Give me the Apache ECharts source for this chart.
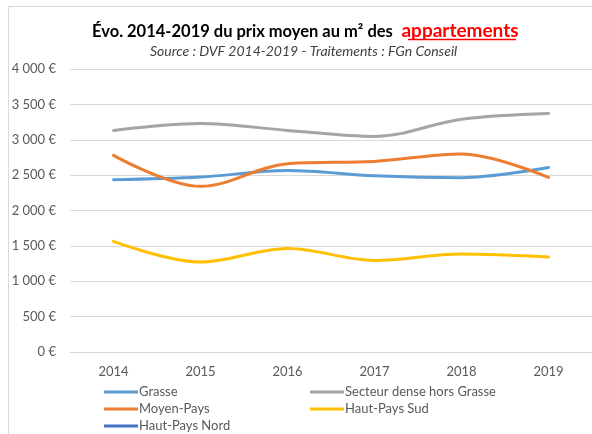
<!DOCTYPE html>
<html>
<head>
<meta charset="utf-8">
<script src="https://cdn.jsdelivr.net/npm/echarts@6/dist/echarts.min.js"></script>
<style>
  html, body { margin: 0; padding: 0; background: #fff; }
  #chart { width: 592px; height: 434px; }
</style>
</head>
<body>
<div id="chart"></div>
<script>
// Average price per m² of apartments, 2014-2019 (€)
const years = ['2014', '2015', '2016', '2017', '2018', '2019'];
const grasse        = [2435, 2473, 2567, 2492, 2464, 2609];
const secteurDense  = [3132, 3230, 3132, 3047, 3290, 3372];
const moyenPays     = [2779, 2341, 2661, 2694, 2798, 2468];
const hautPaysSud   = [1563, 1272, 1464, 1295, 1385, 1343];
const hautPaysNord  = [null, null, null, null, null, null];
const yTicks = { min: 0, max: 4000, step: 500 };

const FONT = 'Lato, "Open Sans", sans-serif';
const TEXT = '#595959';

function euro(v) {
  const s = String(v);
  const grouped = s.length > 3 ? s.slice(0, s.length - 3) + ' ' + s.slice(-3) : s;
  return grouped + ' €';
}

function line(name, data, color) {
  return {
    name, type: 'line', data,
    smooth: 0.35,
    symbol: 'none',
    lineStyle: { width: 3, color, cap: 'round' },
    itemStyle: { color },
    emphasis: { disabled: true }
  };
}

const chart = echarts.init(document.getElementById('chart'), null, { renderer: 'canvas' });
chart.setOption({
  backgroundColor: '#ffffff',
  animation: false,
  textStyle: { fontFamily: FONT },
  title: [
    {
      text: '{a|Évo. 2014-2019 du prix moyen au m² des }{b| appartements}',
      left: 92, top: 21,
      textStyle: {
        rich: {
          a: { fontFamily: FONT, fontSize: 16.5, fontWeight: 'bold', color: '#000', verticalAlign: 'bottom' },
          b: { fontFamily: FONT, fontSize: 19, fontWeight: 'bold', color: '#ff0000', verticalAlign: 'bottom' }
        }
      },
      padding: 0
    },
    {
      text: 'Source : DVF 2014-2019 - Traitements : FGn Conseil',
      left: 150, top: 44,
      padding: 0,
      textStyle: { fontFamily: FONT, fontSize: 14, fontStyle: 'italic', fontWeight: 'normal', color: '#404040' }
    }
  ],
  graphic: [
    {
      type: 'rect', silent: true,
      shape: { x: 8.5, y: 6.5, width: 640, height: 480 },
      style: { fill: 'none', stroke: '#d9d9d9', lineWidth: 1 }
    },
    {
      type: 'line', silent: true,
      shape: { x1: 408, y1: 39.5, x2: 516, y2: 39.5 },
      style: { stroke: '#ff0000', lineWidth: 1.3 }
    }
  ],
  grid: { left: 70, right: 0, top: 69, bottom: 82, containLabel: false },
  xAxis: {
    type: 'category',
    data: years,
    boundaryGap: true,
    axisLine: { show: true, lineStyle: { color: '#d9d9d9', width: 1 } },
    axisTick: { show: false },
    axisLabel: { color: TEXT, fontSize: 13, margin: 13, fontFamily: FONT }
  },
  yAxis: {
    type: 'value',
    min: yTicks.min, max: yTicks.max, interval: yTicks.step,
    axisLine: { show: false },
    axisTick: { show: false },
    splitLine: { lineStyle: { color: '#d9d9d9', width: 1 } },
    axisLabel: { color: TEXT, fontSize: 13, margin: 14, fontFamily: FONT, formatter: euro }
  },
  legend: [
    {
      data: ['Grasse', 'Moyen-Pays', 'Haut-Pays Nord'],
      orient: 'vertical', left: 104, top: 385,
      icon: 'rect', itemWidth: 34, itemHeight: 3, itemGap: 3,
      padding: 0,
      textStyle: { color: TEXT, fontSize: 13, fontFamily: FONT, lineHeight: 14, padding: [0, 0, 0, -4] }
    },
    {
      data: ['Secteur dense hors Grasse', 'Haut-Pays Sud'],
      orient: 'vertical', left: 310, top: 385,
      icon: 'rect', itemWidth: 34, itemHeight: 3, itemGap: 3,
      padding: 0,
      textStyle: { color: TEXT, fontSize: 13, fontFamily: FONT, lineHeight: 14, padding: [0, 0, 0, -4] }
    }
  ],
  series: [
    line('Grasse', grasse, '#5b9bd5'),
    line('Secteur dense hors Grasse', secteurDense, '#a5a5a5'),
    line('Moyen-Pays', moyenPays, '#ed7d31'),
    line('Haut-Pays Sud', hautPaysSud, '#ffc000'),
    line('Haut-Pays Nord', hautPaysNord, '#4472c4')
  ]
});
</script>
</body>
</html>
